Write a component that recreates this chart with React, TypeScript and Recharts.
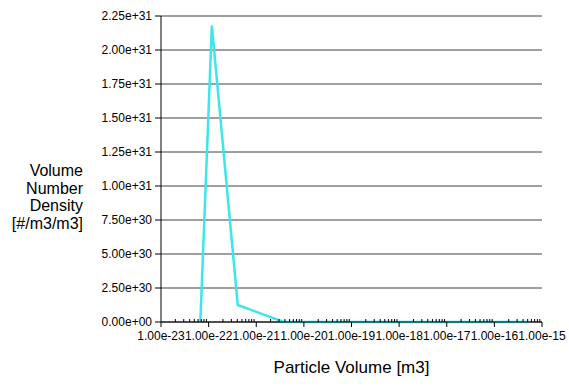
import { LineChart, Line, XAxis, YAxis, CartesianGrid, Label } from 'recharts';

// particle volume [m3] vs volume number density [#/m3/m3]
const volumes = [6.7e-23, 1.17e-22, 4.09e-22, 3.77e-21, 5.1e-16];
const densities = [0, 2.18e31, 1.25e30, 0, 0];

const xTicks = [1e-23, 1e-22, 1e-21, 1e-20, 1e-19, 1e-18, 1e-17, 1e-16, 1e-15];
const minorFactors = [2, 3, 4, 5, 6, 7, 8, 9];
const yTicks = [0, 2.5e30, 5e30, 7.5e30, 1e31, 1.25e31, 1.5e31, 1.75e31, 2e31, 2.25e31];
const yMinorStep = 5e29;

const yLabelLines = ['Volume', 'Number', 'Density', '[#/m3/m3]'];

const data = volumes.map((v, i) => ({ v, d: densities[i] }));
const xMinor = xTicks.slice(0, -1).flatMap((t) => minorFactors.map((f) => t * f));
const yMinor = Array.from({ length: 45 }, (_, i) => i * yMinorStep);

const sci = (n: number) => {
  const [m, e] = n.toExponential(2).split('e');
  const sign = e.startsWith('-') ? '-' : '+';
  const digits = e.replace(/[+-]/, '').padStart(2, '0');
  return `${m}e${sign}${digits}`;
};

const tickStyle = { fontSize: 12, fill: '#000' };
const noLabel = () => '';

export default function App() {
  return (
    <div style={{ position: 'absolute', left: 0, top: 0, fontFamily: '"Liberation Sans", Arial, sans-serif', background: '#fff' }}>
      <LineChart width={569} height={386} data={data} margin={{ top: 16, right: 27, bottom: 34, left: 0 }}>
        <CartesianGrid vertical={false} stroke="#404040" ticks={yTicks} />
        <XAxis
          dataKey="v"
          type="number"
          scale="log"
          domain={[1e-23, 1e-15]}
          ticks={xTicks}
          interval={0}
          allowDataOverflow
          tickFormatter={sci}
          tick={tickStyle}
          tickSize={5}
          tickMargin={4}
          height={30}
          stroke="#000"
        >
          <Label
            content={(props: any) => {
              const vb = props.viewBox || { x: 161, y: 322, width: 381 };
              return (
                <text x={vb.x + vb.width / 2} y={vb.y + 51} textAnchor="middle" fontSize={17} fill="#000">
                  Particle Volume [m3]
                </text>
              );
            }}
          />
        </XAxis>
        <XAxis
          xAxisId="minor"
          dataKey="v"
          type="number"
          scale="log"
          domain={[1e-23, 1e-15]}
          ticks={xMinor}
          interval={0}
          allowDataOverflow
          mirror
          tickFormatter={noLabel}
          axisLine={false}
          tickLine={{ stroke: '#000' }}
          tickSize={3}
          height={1}
          stroke="#000"
        />
        <YAxis
          type="number"
          domain={[0, 2.25e31]}
          ticks={yTicks}
          interval={0}
          tickFormatter={sci}
          tick={tickStyle}
          tickSize={6}
          tickMargin={3}
          width={161}
          stroke="#000"
        >
          <Label
            content={() => (
              <text x={83} y={176} textAnchor="end" fontSize={16} fill="#000">
                {yLabelLines.map((l, i) => (
                  <tspan key={l} x={83} dy={i === 0 ? 0 : 17.5}>
                    {l}
                  </tspan>
                ))}
              </text>
            )}
          />
        </YAxis>
        <YAxis
          yAxisId="minor"
          type="number"
          domain={[0, 2.25e31]}
          ticks={yMinor}
          interval={0}
          mirror
          tickFormatter={noLabel}
          axisLine={false}
          tickLine={{ stroke: '#000' }}
          tickSize={3}
          width={1}
          stroke="#000"
        />
        <Line
          dataKey="d"
          type="linear"
          stroke="#3de6e8"
          strokeWidth={2.5}
          dot={false}
          isAnimationActive={false}
        />
      </LineChart>
    </div>
  );
}
